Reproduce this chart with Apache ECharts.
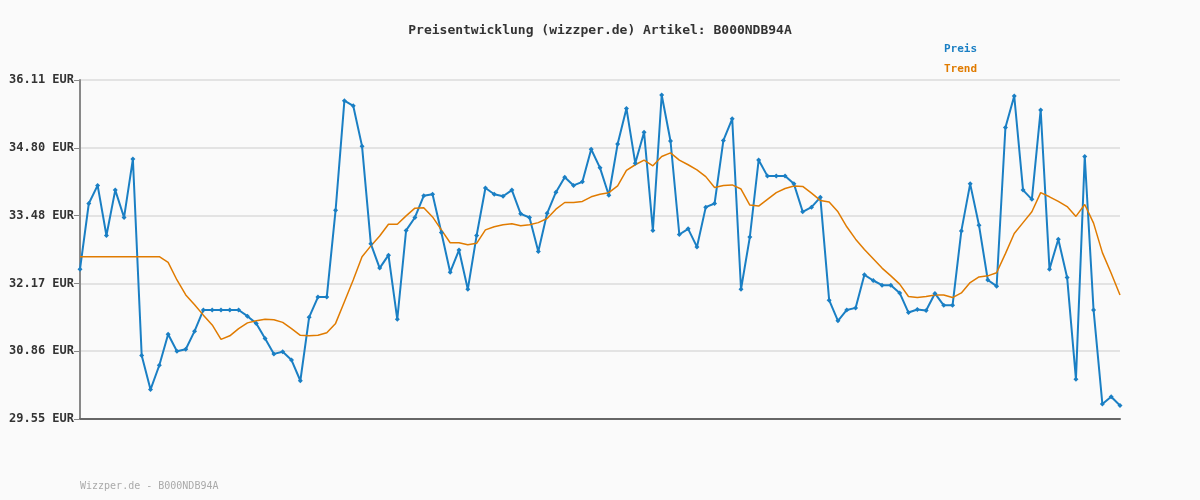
<!DOCTYPE html>
<html><head><meta charset="utf-8">
<script src="https://cdn.jsdelivr.net/npm/echarts@6/dist/echarts.min.js"></script>
<style>html,body{margin:0;background:#fafafa}#c{width:1200px;height:500px}</style>
</head><body><div id="c"></div>
<script>
const preis = [32.45,33.72,34.07,33.10,33.98,33.45,34.58,30.78,30.12,30.59,31.19,30.86,30.90,31.25,31.66,31.66,31.66,31.66,31.66,31.54,31.40,31.11,30.81,30.85,30.69,30.29,31.52,31.91,31.91,33.59,35.71,35.61,34.83,32.94,32.47,32.72,31.48,33.20,33.45,33.87,33.90,33.16,32.39,32.82,32.06,33.10,34.02,33.90,33.86,33.98,33.52,33.45,32.79,33.53,33.94,34.23,34.07,34.14,34.77,34.41,33.88,34.87,35.56,34.50,35.10,33.20,35.82,34.93,33.12,33.23,32.88,33.65,33.72,34.94,35.36,32.06,33.07,34.56,34.25,34.25,34.25,34.10,33.56,33.65,33.84,31.85,31.45,31.66,31.70,32.34,32.23,32.14,32.14,31.99,31.61,31.67,31.65,31.98,31.75,31.75,33.19,34.10,33.30,32.24,32.12,35.19,35.80,33.98,33.80,35.53,32.45,33.03,32.29,30.32,34.63,31.66,29.84,29.98,29.81];
const trend = [32.69,32.69,32.69,32.69,32.69,32.69,32.69,32.69,32.69,32.69,32.58,32.24,31.95,31.76,31.56,31.37,31.09,31.16,31.30,31.41,31.45,31.48,31.47,31.42,31.30,31.17,31.16,31.17,31.22,31.40,31.82,32.24,32.69,32.90,33.09,33.32,33.32,33.48,33.63,33.64,33.46,33.21,32.96,32.96,32.92,32.95,33.21,33.27,33.31,33.33,33.29,33.31,33.35,33.43,33.61,33.74,33.74,33.76,33.85,33.90,33.93,34.06,34.36,34.47,34.56,34.45,34.63,34.70,34.56,34.47,34.37,34.24,34.03,34.07,34.08,34.00,33.69,33.67,33.80,33.93,34.01,34.06,34.05,33.92,33.78,33.75,33.56,33.27,33.03,32.83,32.65,32.47,32.32,32.16,31.92,31.90,31.92,31.95,31.95,31.90,31.99,32.19,32.30,32.32,32.38,32.75,33.14,33.35,33.56,33.93,33.85,33.76,33.66,33.47,33.70,33.34,32.77,32.37,31.95];
const categories = preis.map((_, i) => String(i + 1));
const tickLabels = ["29.55 EUR","30.86 EUR","32.17 EUR","33.48 EUR","34.80 EUR","36.11 EUR"];
const mono = "DejaVu Sans Mono";
const chart = echarts.init(document.getElementById('c'));
chart.setOption({
  backgroundColor:'#fafafa',
  animation:false,
  title:{text:'Preisentwicklung (wizzper.de) Artikel: B000NDB94A',left:'center',top:19,
    textStyle:{fontFamily:mono,fontSize:13,fontWeight:'bold',color:'#333'}},
  legend:{orient:'vertical',left:934,top:37,itemGap:8,icon:'none',itemWidth:0,
    data:[{name:'Preis',textStyle:{color:'#1a7fc4'}},{name:'Trend',textStyle:{color:'#e07b00'}}],
    textStyle:{fontFamily:mono,fontSize:11,fontWeight:'bold'}},
  graphic:[{type:'text',left:80,top:481,style:{text:'Wizzper.de - B000NDB94A',fill:'#aaa',font:'10px "DejaVu Sans Mono"'}}],
  grid:{left:80,right:80,top:80,bottom:81},
  xAxis:{type:'category',data:categories,boundaryGap:false,
    axisLine:{lineStyle:{color:'#666',width:2}},axisTick:{show:false},axisLabel:{show:false},splitLine:{show:false}},
  yAxis:{type:'value',min:29.55,max:36.11,interval:1.312,
    axisLine:{show:true,lineStyle:{color:'#888',width:2}},axisTick:{show:true,length:6,lineStyle:{color:'#888'}},
    axisLabel:{fontFamily:mono,fontSize:12,fontWeight:'bold',color:'#333',margin:6,formatter:(v,i)=>tickLabels[i]},
    splitLine:{lineStyle:{color:'#e3e3e3',width:2}}},
  series:[
    {name:'Preis',type:'line',data:preis,color:'#1a7fc4',lineStyle:{width:2},symbol:'diamond',symbolSize:5,showSymbol:true},
    {name:'Trend',type:'line',data:trend,color:'#e07b00',lineStyle:{width:1.5},symbol:'none'}
  ]
});
</script></body></html>
